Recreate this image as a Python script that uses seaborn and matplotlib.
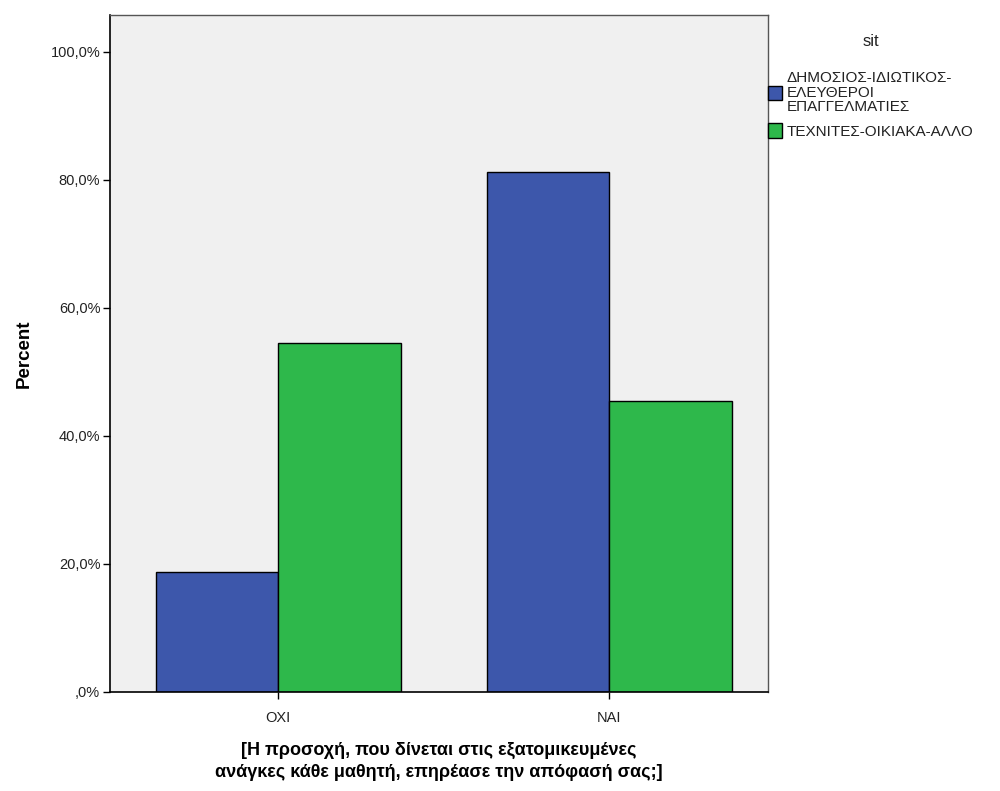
import pandas as pd
import matplotlib
matplotlib.use("Agg")
import matplotlib.pyplot as plt
from matplotlib.ticker import FuncFormatter
import seaborn as sns

categories = ["ΟΧΙ", "ΝΑΙ"]
groups = ["ΔΗΜΟΣΙΟΣ-ΙΔΙΩΤΙΚΟΣ-\nΕΛΕΥΘΕΡΟΙ\nΕΠΑΓΓΕΛΜΑΤΙΕΣ", "ΤΕΧΝΙΤΕΣ-ΟΙΚΙΑΚΑ-ΑΛΛΟ"]
public_private = [18.75, 81.25]
craftsmen_other = [54.5, 45.5]
colors = ["#3D57AB", "#2EB84B"]

df = pd.DataFrame({
    "answer": categories * 2,
    "sit": [groups[0]] * 2 + [groups[1]] * 2,
    "percent": public_private + craftsmen_other,
})


def pct_label(v, pos):
    s = f"{v:.1f}".replace(".", ",")
    if s.startswith("0,"):
        s = s[1:]
    return s + "%"


sns.set_style("white")
plt.rcParams["font.family"] = ["Liberation Sans", "DejaVu Sans"]

fig = plt.figure(figsize=(10, 7.91), dpi=100)
ax = fig.add_axes([0.11, 0.1252, 0.658, 0.856])
ax.set_facecolor("#F0F0F0")

sns.barplot(
    data=df, x="answer", y="percent", hue="sit",
    order=categories, hue_order=groups,
    palette=colors, saturation=1,
    width=0.74, edgecolor="black", linewidth=1,
    errorbar=None, ax=ax,
)

ax.set_xlim(-0.508, 1.48)
ax.set_ylim(0, 105.8)
ax.set_yticks([0, 20, 40, 60, 80, 100])
ax.yaxis.set_major_formatter(FuncFormatter(pct_label))
ax.tick_params(axis="both", length=5, width=1, color="black",
               labelsize=10.5, labelcolor="#222222", direction="out",
               left=True, bottom=True)
ax.tick_params(axis="x", pad=9)
ax.tick_params(axis="y", pad=2)

for side in ["left", "bottom"]:
    ax.spines[side].set_color("black")
    ax.spines[side].set_linewidth(1.2)
for side in ["top", "right"]:
    ax.spines[side].set_color("#555555")
    ax.spines[side].set_linewidth(1)

ax.set_ylabel("Percent", fontsize=13.5, fontweight="bold", labelpad=13, color="black")
ax.set_xlabel("[Η προσοχή, που δίνεται στις εξατομικευμένες\nανάγκες κάθε μαθητή, επηρέασε την απόφασή σας;]",
              fontsize=13, fontweight="bold", labelpad=12, linespacing=1.4, color="black")

ax.legend_.remove()
handles = [plt.Rectangle((0, 0), 1, 1, facecolor=c, edgecolor="black", linewidth=1)
           for c in colors]
leg = fig.legend(handles, groups, title="sit", loc="upper left",
                 bbox_to_anchor=(0.762, 0.965), frameon=False,
                 fontsize=11, title_fontsize=12, handlelength=0.9,
                 handleheight=1.1, handletextpad=0.3, labelspacing=0.6,
                 borderaxespad=0)
for t in leg.get_texts():
    t.set_linespacing(1.05)
    t.set_color("#222222")
leg.get_title().set_color("#222222")
leg._legend_box.sep = 16

fig.savefig("out.png", dpi=100)
